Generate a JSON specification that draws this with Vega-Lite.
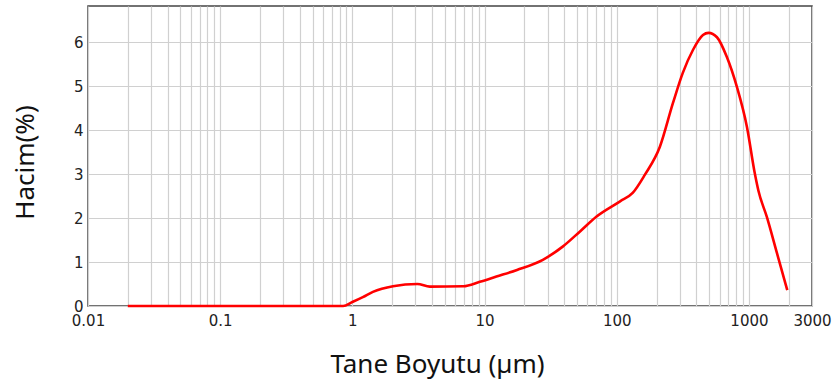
{
  "$schema": "https://vega.github.io/schema/vega-lite/v6.json",
  "width": 724,
  "height": 300,
  "autosize": {"type": "none"},
  "padding": {"left": 88, "top": 6, "right": 25, "bottom": 74},
  "background": "white",
  "config": {
    "view": {"stroke": "#444444", "strokeWidth": 1.5},
    "axis": {"labelFont": "DejaVu Sans", "labelFontSize": 15, "labelColor": "#222222", "titleFont": "Noto Sans", "titleFontWeight": "normal", "titleColor": "#111111", "titleFontSize": 26, "gridColor": "#d0d0d0", "gridWidth": 1.2, "ticks": false, "domain": false}
  },
  "data": {
    "values": [
      {"size": 0.02, "vol": 0},
      {"size": 0.85, "vol": 0},
      {"size": 1.0, "vol": 0.09},
      {"size": 1.2, "vol": 0.2},
      {"size": 1.43, "vol": 0.32},
      {"size": 2.03, "vol": 0.45},
      {"size": 3.1, "vol": 0.5},
      {"size": 3.86, "vol": 0.44},
      {"size": 6.9, "vol": 0.45},
      {"size": 9.2, "vol": 0.55},
      {"size": 12.3, "vol": 0.67},
      {"size": 17.6, "vol": 0.82},
      {"size": 27.6, "vol": 1.05},
      {"size": 39, "vol": 1.35},
      {"size": 52.5, "vol": 1.69},
      {"size": 70, "vol": 2.03},
      {"size": 106, "vol": 2.38},
      {"size": 132, "vol": 2.57},
      {"size": 163, "vol": 2.98},
      {"size": 212, "vol": 3.62},
      {"size": 266, "vol": 4.61},
      {"size": 316, "vol": 5.3},
      {"size": 377, "vol": 5.82},
      {"size": 449, "vol": 6.16},
      {"size": 495, "vol": 6.21},
      {"size": 573, "vol": 6.11},
      {"size": 681, "vol": 5.66},
      {"size": 811, "vol": 4.98},
      {"size": 966, "vol": 4.07},
      {"size": 1110, "vol": 3.0},
      {"size": 1180, "vol": 2.62},
      {"size": 1368, "vol": 2.02},
      {"size": 1630, "vol": 1.2},
      {"size": 1950, "vol": 0.36}
    ]
  },
  "mark": {"type": "line", "color": "#ff0000", "strokeWidth": 2.6, "interpolate": "monotone"},
  "encoding": {
    "x": {
      "field": "size", "type": "quantitative",
      "scale": {"type": "log", "domain": [0.01, 3000], "nice": false},
      "axis": {
        "title": "Tane Boyutu (µm)",
        "values": [0.01,0.02,0.03,0.04,0.05,0.06,0.07,0.08,0.09,0.1,0.2,0.3,0.4,0.5,0.6,0.7,0.8,0.9,1,2,3,4,5,6,7,8,9,10,20,30,40,50,60,70,80,90,100,200,300,400,500,600,700,800,900,1000,2000,3000],
        "labelExpr": "indexof([0.01,0.1,1,10,100,1000,3000], datum.value) >= 0 ? format(datum.value, '') : ''",
        "labelPadding": 7,
        "labelDx": 3,
        "labelFlush": false,
        "labelOverlap": false,
        "titleX": 349,
        "titleY": 66,
        "titleAlign": "center",
        "titleBaseline": "alphabetic"
      }
    },
    "y": {
      "field": "vol", "type": "quantitative",
      "scale": {"domain": [0, 6.82], "nice": false},
      "axis": {
        "title": "Hacim(%)",
        "values": [0,1,2,3,4,5,6],
        "labelPadding": 5,
        "titleX": -63,
        "titleY": 156,
        "titleAlign": "center",
        "titleBaseline": "middle",
        "titleAngle": -90
      }
    }
  }
}
